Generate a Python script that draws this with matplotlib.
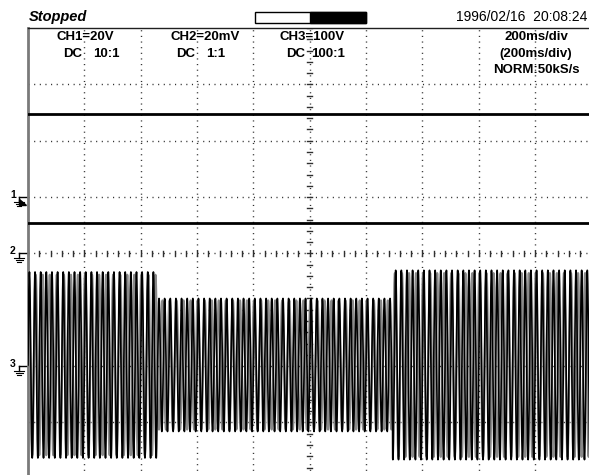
import numpy as np
import matplotlib
matplotlib.use("Agg")
import matplotlib.pyplot as plt
from matplotlib.lines import Line2D
from matplotlib.patches import Rectangle, Polygon

# ---------------- data (in screen divisions) ----------------
ch1_level_div = 2.47
ch2_level_div = 0.54
ch3_offset_div = -1.98
ch3_seg_edges_div = [0.0, 2.29, 6.47, 10.0]
ch3_seg_amp_div = [1.65, 1.18, 1.68]
ch3_freq_hz = 50.0
ch3_alias_hz = 40.0           # apparent beat component of the sampled display
time_per_div_s = 0.2
marker_labels = ["1", "2", "3"]
marker_levels_div = [1.0, 0.0, -2.0]

header_left = "Stopped"
header_right = "1996/02/16  20:08:24"
ch_labels = ["CH1=20V", "CH2=20mV", "CH3=100V"]
ch_coupling = ["DC", "DC", "DC"]
ch_probe = ["10:1", "1:1", "100:1"]
time_labels = ["200ms/div", "(200ms/div)", "NORM:50kS/s"]

# ---------------- figure geometry ----------------
W, H = 589, 475
DPI = 100
X0, Y0, DIV = 28.0, 28.0, 56.35   # pixel origin of screen and division size

fig = plt.figure(figsize=(W / DPI, H / DPI), dpi=DPI)
fig.patch.set_facecolor("white")
ax = fig.add_axes([X0 / W, 1 - (Y0 + 8 * DIV) / H, 10 * DIV / W, 8 * DIV / H])
ax.set_xlim(0, 10)
ax.set_ylim(-4, 4)
ax.set_xticks([])
ax.set_yticks([])
for s in ["right", "bottom"]:
    ax.spines[s].set_visible(False)
ax.spines["left"].set_color("#7a7a7a")
ax.spines["left"].set_linewidth(2.0)
ax.spines["top"].set_color("#202020")
ax.spines["top"].set_linewidth(1.0)

FONT = ["Liberation Sans", "DejaVu Sans"]

def px(x, y):
    return x / W, 1 - y / H

# ---------------- graticule ----------------
dot_pt = DIV / 10 / (DPI / 72)   # dot pitch in points
dots = (0, (0.8, dot_pt - 0.8))
for i in range(1, 10):
    ax.axvline(i, color="#303030", lw=1.0, linestyle=dots, zorder=1)
for j in range(-3, 4):
    ax.axhline(j, color="#303030", lw=1.0, linestyle=dots, zorder=1)
tick_half = 2.5 / DIV
for k in np.arange(-4, 4.01, 0.2):
    ax.plot([5 - tick_half, 5 + tick_half], [k, k], color="#303030", lw=1.0, zorder=1)
for k in np.arange(0, 10.01, 0.2):
    ax.plot([k, k], [-tick_half, tick_half], color="#303030", lw=1.0, zorder=1)

# ---------------- traces ----------------
ax.plot([0, 10], [ch1_level_div, ch1_level_div], color="black", lw=2.0, zorder=3)
ax.plot([0, 10], [ch2_level_div, ch2_level_div], color="black", lw=2.0, zorder=3)

t = np.linspace(0, 10, 30000)
amp = np.zeros_like(t)
for a, b, A in zip(ch3_seg_edges_div[:-1], ch3_seg_edges_div[1:], ch3_seg_amp_div):
    amp[(t >= a) & (t <= b)] = A
t_s = t * time_per_div_s
sig = ch3_offset_div + amp * np.sin(2 * np.pi * ch3_freq_hz * t_s)
sig_alias = ch3_offset_div + amp * 0.97 * np.sin(2 * np.pi * ch3_alias_hz * t_s + 1.0)
ax.plot(t, sig_alias, color="#8a8a8a", lw=1.6, zorder=3)
ax.plot(t, sig, color="black", lw=1.2, zorder=4)

# ---------------- header ----------------
fig.text(*px(29, 17), header_left, fontsize=10.5, fontstyle="italic", fontweight="bold",
         family=FONT, va="center", ha="left")
fig.text(*px(587, 17), header_right, fontsize=10, family=FONT, va="center", ha="right")
bx0, bx1, bmid, by0, by1 = 255, 366, 310, 12, 23
fig.add_artist(Rectangle(px(bx0, by1), (bx1 - bx0) / W, (by1 - by0) / H,
                         transform=fig.transFigure, facecolor="white", edgecolor="black", lw=1))
fig.add_artist(Rectangle(px(bmid, by1), (bx1 - bmid) / W, (by1 - by0) / H,
                         transform=fig.transFigure, facecolor="black", edgecolor="black", lw=1))

# ---------------- channel info ----------------
ch_x = [85, 205, 312]
dc_right = [82, 195, 305]
probe_left = [93, 206, 311]
for x, xr, xl, lab, cpl, prb in zip(ch_x, dc_right, probe_left, ch_labels, ch_coupling, ch_probe):
    fig.text(*px(x, 37), lab, fontsize=9.5, fontweight="bold", family=FONT, ha="center", va="center")
    fig.text(*px(xr, 54), cpl, fontsize=9.5, fontweight="bold", family=FONT, ha="right", va="center")
    fig.text(*px(xl, 54), prb, fontsize=9.5, fontweight="bold", family=FONT, ha="left", va="center")
for yy, lab in zip([37, 54, 70], time_labels):
    fig.text(*px(536, yy), lab, fontsize=9.5, fontweight="bold", family=FONT, ha="center", va="center")

# ---------------- ground markers ----------------
for lab, lvl in zip(marker_labels, marker_levels_div):
    yp = Y0 + (4 - lvl) * DIV
    fig.text(*px(13, yp - 2), lab, fontsize=7.5, fontweight="bold", family=FONT, ha="center", va="center")
    fig.add_artist(Line2D([px(19, 0)[0], px(26, 0)[0]], [px(0, yp)[1]] * 2,
                          transform=fig.transFigure, color="black", lw=1))
    fig.add_artist(Line2D([px(19, 0)[0]] * 2, [px(0, yp)[1], px(0, yp + 5)[1]],
                          transform=fig.transFigure, color="black", lw=1))
    for k, hw in enumerate([5, 3.5, 2]):
        yy = yp + 5 + 2 * k
        fig.add_artist(Line2D([px(19 - hw, 0)[0], px(19 + hw, 0)[0]], [px(0, yy)[1]] * 2,
                              transform=fig.transFigure, color="black", lw=0.8))
    if lab == "1":
        fig.add_artist(Polygon([px(19, yp + 2), px(19, yp + 8), px(26, yp + 8)],
                               closed=True, transform=fig.transFigure, color="black"))

fig.savefig("out.png", dpi=DPI, facecolor="white")
